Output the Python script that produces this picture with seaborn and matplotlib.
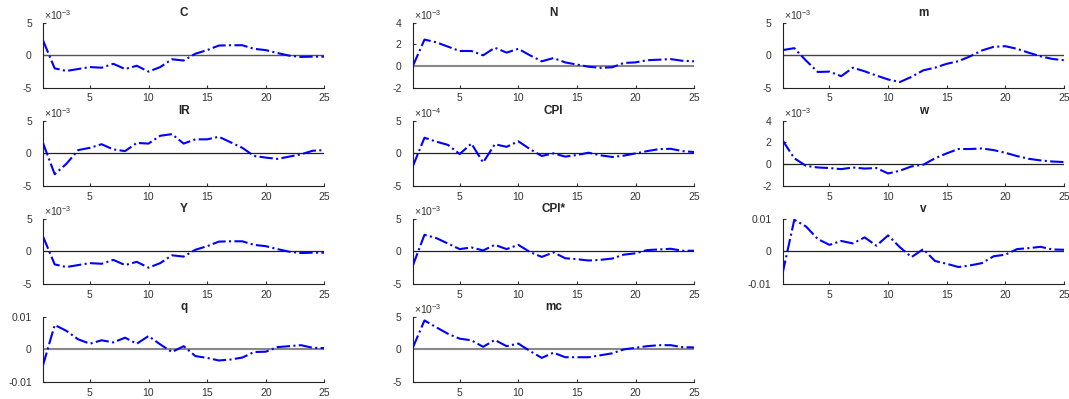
import numpy as np
import pandas as pd
import matplotlib
matplotlib.use("Agg")
import matplotlib.pyplot as plt
import matplotlib.ticker as mticker
import seaborn as sns

periods = list(range(1, 26))

C = [2.3, -2.0, -2.4, -2.1, -1.8, -1.9, -1.3, -2.1, -1.6, -2.5, -1.8, -0.6, -0.8, 0.25, 0.8,
     1.5, 1.55, 1.55, 1.0, 0.8, 0.35, -0.05, -0.25, -0.2, -0.2]
N = [0.0, 2.45, 2.2, 1.8, 1.4, 1.4, 1.0, 1.7, 1.25, 1.6, 1.0, 0.45, 0.75, 0.35, 0.15,
     -0.05, -0.15, -0.1, 0.3, 0.35, 0.55, 0.6, 0.65, 0.5, 0.45]
m = [0.8, 1.1, -0.8, -2.55, -2.5, -3.2, -1.9, -2.45, -3.1, -3.7, -4.1, -3.3, -2.3, -1.9, -1.3,
     -0.9, -0.15, 0.75, 1.3, 1.4, 1.0, 0.4, -0.15, -0.55, -0.75]
IR = [1.6, -3.2, -1.6, 0.5, 0.85, 1.4, 0.6, 0.35, 1.6, 1.5, 2.7, 2.95, 1.5, 2.15, 2.15,
      2.55, 1.7, 0.85, -0.4, -0.65, -0.85, -0.5, -0.15, 0.4, 0.5]
CPI = [-2.0, 2.4, 1.8, 1.3, -0.1, 1.5, -1.4, 1.4, 1.0, 1.85, 0.65, -0.4, 0.0, -0.5, -0.25,
       0.1, -0.3, -0.55, -0.35, 0.0, 0.35, 0.65, 0.7, 0.35, 0.2]
w = [2.2, 0.55, -0.15, -0.3, -0.35, -0.45, -0.3, -0.4, -0.35, -0.85, -0.6, -0.2, -0.05, 0.55, 1.0,
     1.4, 1.4, 1.45, 1.3, 1.05, 0.75, 0.5, 0.35, 0.25, 0.2]
Y = [2.3, -2.0, -2.4, -2.1, -1.8, -1.9, -1.3, -2.1, -1.6, -2.5, -1.8, -0.6, -0.8, 0.25, 0.8,
     1.5, 1.55, 1.55, 1.0, 0.8, 0.35, -0.05, -0.25, -0.2, -0.2]
CPI_star = [-2.2, 2.55, 2.05, 1.2, 0.35, 0.6, 0.15, 1.0, 0.35, 1.0, -0.1, -0.85, -0.15, -1.05, -1.2,
            -1.4, -1.3, -1.1, -0.5, -0.3, 0.2, 0.3, 0.4, 0.1, 0.1]
v = [-6.8, 9.7, 7.65, 3.8, 2.0, 3.2, 2.45, 4.3, 1.75, 4.9, 1.3, -1.75, 0.7, -2.95, -3.8,
     -4.8, -4.3, -3.6, -1.5, -1.0, 0.7, 1.0, 1.4, 0.6, 0.5]
q = [-4.9, 7.5, 5.7, 3.1, 1.75, 2.8, 2.15, 3.6, 1.75, 4.1, 1.55, -0.8, 1.0, -2.05, -2.6,
     -3.4, -3.1, -2.5, -0.8, -0.7, 0.7, 1.0, 1.3, 0.5, 0.4]
mc = [0.25, 4.45, 3.4, 2.4, 1.65, 1.4, 0.4, 1.45, 0.5, 0.9, -0.25, -1.3, -0.5, -1.2, -1.2,
      -1.2, -0.9, -0.6, 0.0, 0.25, 0.5, 0.65, 0.65, 0.35, 0.3]

titles = ["C", "N", "m", "IR", "CPI", "w", "Y", "CPI*", "v", "q", "mc"]
series = [C, N, m, IR, CPI, w, Y, CPI_star, v, q, mc]
# values above are in units of 10^exp
exps = [-3, -3, -3, -3, -4, -3, -3, -3, -3, -3, -3]
ylims = [(-5, 5), (-2, 4), (-5, 5), (-5, 5), (-5, 5), (-2, 4), (-5, 5), (-5, 5),
         (-10, 10), (-10, 10), (-5, 5)]
yticks = [[-5, 0, 5], [-2, 0, 2, 4], [-5, 0, 5], [-5, 0, 5], [-5, 0, 5], [-2, 0, 2, 4],
          [-5, 0, 5], [-5, 0, 5], [-10, 0, 10], [-10, 0, 10], [-5, 0, 5]]
offset_labels = [r"$\times10^{-3}$", r"$\times10^{-3}$", r"$\times10^{-3}$", r"$\times10^{-3}$",
                 r"$\times10^{-4}$", r"$\times10^{-3}$", r"$\times10^{-3}$", r"$\times10^{-3}$",
                 None, None, r"$\times10^{-3}$"]
zero_colors = ["#555555", "#888888", "#444444", "#222222", "#222222", "#222222",
               "#222222", "#222222", "#222222", "#888888", "#888888"]
zero_widths = [1.0, 1.5, 1.0, 0.9, 0.9, 0.9, 0.9, 0.9, 0.9, 1.5, 1.5]

sns.set_style("ticks")
plt.rcParams["font.family"] = ["Liberation Sans", "DejaVu Sans"]
plt.rcParams["axes.unicode_minus"] = False
plt.rcParams["mathtext.fontset"] = "custom"
plt.rcParams["mathtext.rm"] = "Liberation Sans"
plt.rcParams["mathtext.it"] = "Liberation Sans"

fig, axes = plt.subplots(4, 3, figsize=(10.69, 3.99), dpi=100)
fig.subplots_adjust(left=0.0402, right=0.9953, top=0.943, bottom=0.0426,
                    wspace=0.314, hspace=0.504)

for i, ax in enumerate(axes.flat):
    if i >= len(series):
        ax.axis("off")
        continue
    scale = 10.0 ** exps[i]
    vals = np.array(series[i]) * scale
    df = pd.DataFrame({"t": periods, "val": vals})
    ax.axhline(0, color=zero_colors[i], lw=zero_widths[i], zorder=1)
    sns.lineplot(data=df, x="t", y="val", ax=ax, color="blue", linestyle="-.",
                 linewidth=1.5, zorder=3)
    ax.set_xlim(1, 25)
    lo, hi = ylims[i]
    ax.set_ylim(lo * scale, hi * scale)
    ax.set_yticks([t * scale for t in yticks[i]])
    ax.set_xticks([5, 10, 15, 20, 25])
    if offset_labels[i] is not None:
        ax.yaxis.set_major_formatter(
            mticker.FuncFormatter(lambda x, p, s=scale: f"{round(x / s, 6):g}"))
        ax.text(0.005, 1.01, offset_labels[i], transform=ax.transAxes, ha="left",
                va="bottom", fontsize=7.5, color="#333333")
    else:
        ax.yaxis.set_major_formatter(mticker.FuncFormatter(lambda x, p: f"{x:g}"))
    ax.set_xlabel("")
    ax.set_ylabel("")
    ax.set_title(titles[i], fontsize=8.5, fontweight="bold", pad=5)
    ax.tick_params(direction="in", length=2.5, width=0.8, labelsize=7.5,
                   colors="#333333")
    ax.tick_params(axis="y", pad=8)
    ax.tick_params(axis="x", pad=4)
    for s in ["left", "bottom"]:
        ax.spines[s].set_linewidth(0.8)
        ax.spines[s].set_color("#222222")
    sns.despine(ax=ax)

fig.savefig("out.png", dpi=100)
